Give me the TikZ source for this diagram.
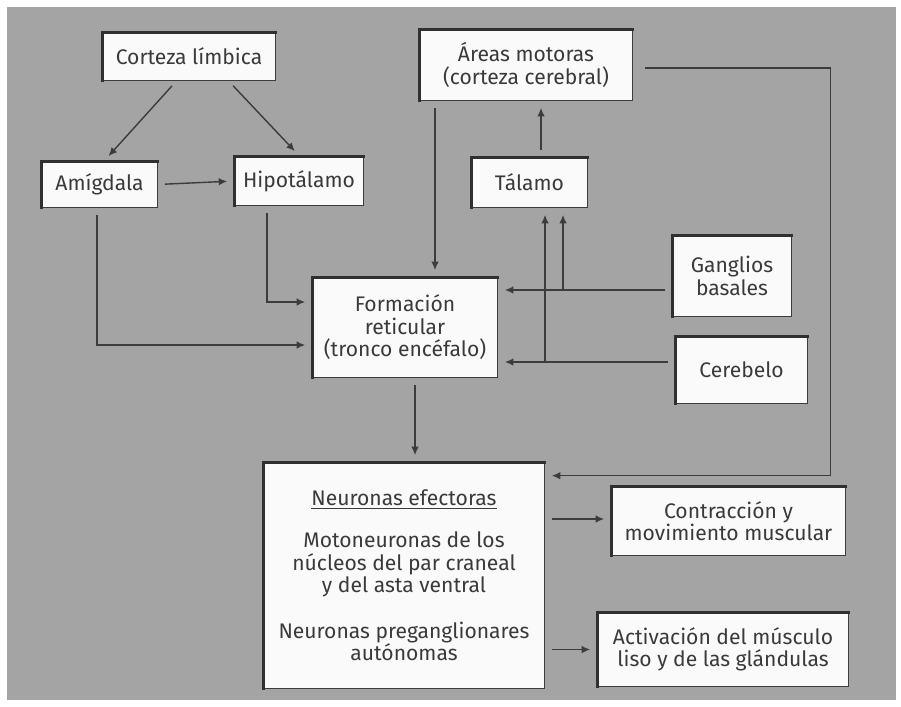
\documentclass[tikz,border=0pt]{standalone}
\usepackage{fontspec}
\setmainfont{Fira Sans}
\usetikzlibrary{arrows.meta,calc}
\definecolor{cFondo}{HTML}{A4A4A4}
\definecolor{cLinea}{HTML}{3C3C3C}
\definecolor{cTexto}{HTML}{3A3A3A}
\definecolor{cCaja}{HTML}{FAFAFA}
\tikzset{
  fig/caja/.style  ={draw=cLinea, thin, fill=cCaja, text=cTexto, align=center,
                     font=\fontsize{12}{12.8}\selectfont, inner sep=2pt},
  fig/borde/.style ={cLinea!80!black, line width=0.065cm, line cap=rect},
  fig/flecha/.style={-{Latex[length=1.7mm, width=1.5mm]}, cLinea, line width=0.8pt,
                     shorten <=0.15cm, shorten >=0.15cm},
  fig/rama/.style  ={fig/flecha, shorten <=0pt}
}

\begin{document}
\begin{tikzpicture}[x=0.02cm, y=-0.02cm]
    % page and grey panel
    \useasboundingbox (0,0) rectangle (901,706);
    \fill[white] (0,0) rectangle (901,706);
    \fill[cFondo] (7,7) rectangle (896,700);

    % boxes
    \node[fig/caja, minimum width=3.44cm, minimum height=0.94cm] (corteza)    at (189,56.5)  {Corteza límbica};
    \node[fig/caja, minimum width=2.30cm, minimum height=0.90cm] (amigdala)   at (99.5,184.5) {Amígdala};
    \node[fig/caja, minimum width=2.56cm, minimum height=0.96cm] (hipotalamo) at (299,181)   {Hipotálamo};
    \node[fig/caja, minimum width=4.24cm, minimum height=1.40cm] (areas)      at (526,65)    {Áreas motoras\\(corteza cerebral)};
    \node[fig/caja, minimum width=2.30cm, minimum height=0.98cm] (talamo)     at (529.5,182.5) {Tálamo};
    \node[fig/caja, minimum width=3.68cm, minimum height=1.98cm] (formacion)  at (405,327.5) {Formación\\reticular\\(tronco encéfalo)};
    \node[fig/caja, minimum width=2.36cm, minimum height=1.60cm] (ganglios)   at (732,276)   {Ganglios\\basales};
    \node[fig/caja, minimum width=2.62cm, minimum height=1.32cm] (cerebelo)   at (741.5,370) {Cerebelo};
    \node[fig/caja, minimum width=5.60cm, minimum height=4.50cm] (neuronas)   at (404,575.5)
      {\underline{Neuronas efectoras}\\[11pt]
       Motoneuronas de los\\núcleos del par craneal\\y del asta ventral\\[13pt]
       Neuronas preganglionares\\autónomas};
    \node[fig/caja, minimum width=4.66cm, minimum height=1.36cm] (contraccion) at (728.5,521) {Contracción y\\movimiento muscular};
    \node[fig/caja, minimum width=5.00cm, minimum height=1.46cm] (activacion)  at (723,649.5) {Activación del músculo\\liso y de las glándulas};

    % heavy left and top edges
    \foreach \n in {corteza,amigdala,hipotalamo,areas,talamo,formacion,
                    ganglios,cerebelo,neuronas,contraccion,activacion} {
      \draw[fig/borde] (\n.south west) -- (\n.north west) -- (\n.north east);
    }

    % limbic inputs
    \draw[fig/flecha] ($(corteza.south)+(-12,0)$) -- ($(amigdala.north)+(4,0)$);
    \draw[fig/flecha] ($(corteza.south)+(39,0)$) -- ($(hipotalamo.north)+(1,0)$);
    \draw[fig/flecha] (amigdala.east) -- (hipotalamo.west);
    \draw[fig/flecha] ($(amigdala.south)+(-2.5,0)$) |- ($(formacion.west)+(0,17.5)$);
    \draw[fig/flecha] ($(hipotalamo.south)+(-32,0)$) |- ($(formacion.west)+(0,-25.5)$);

    % motor areas and thalamus
    \draw[fig/flecha] ($(areas.south)+(-91,0)$) -- ($(formacion.north)+(30,0)$);
    \draw[fig/flecha] ($(talamo.north)+(11.5,0)$) coordinate (t1) -- (t1 |- areas.south);

    % basal ganglia and cerebellum
    \draw[fig/flecha] ($(ganglios.west)+(0,14)$) coordinate (g1) -- (g1 -| formacion.east);
    \draw[fig/flecha] ($(cerebelo.west)+(0,-8)$) coordinate (c1) -- (c1 -| formacion.east);
    \coordinate (tg) at ($(talamo.south)+(33.5,0)$);
    \coordinate (tc) at ($(talamo.south)+(15.5,0)$);
    \draw[fig/rama] (tg |- g1) -- (tg);
    \draw[fig/rama] (tc |- c1) -- (tc);

    % descending pathways
    \draw[fig/flecha] ($(formacion.south)+(10,0)$) -- ($(neuronas.north)+(11,0)$);
    \draw[fig/flecha, shorten <=0.26cm] ($(areas.east)+(0,3)$) -- ++(198,0)
          |- ($(neuronas.north east)+(0,13)$);

    % effects
    \coordinate (e1) at ($(contraccion.west)+(0,-2)$);
    \draw[fig/flecha] (neuronas.east |- e1) -- (e1);
    \draw[fig/flecha] (neuronas.east |- activacion.west) -- (activacion.west);
\end{tikzpicture}
\end{document}
